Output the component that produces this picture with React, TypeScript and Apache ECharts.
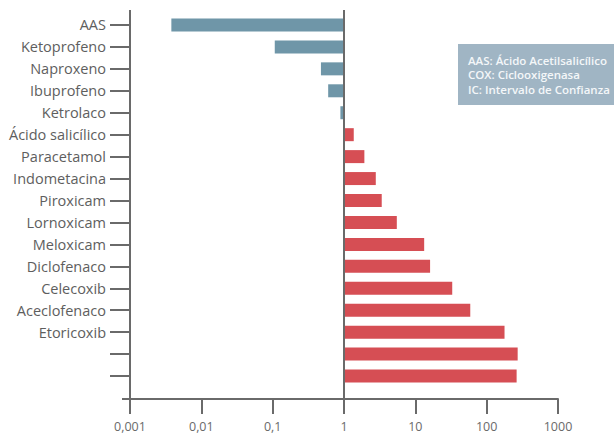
import React, { useEffect, useRef } from 'react';
import * as echarts from 'echarts';

const categories = [
  'AAS', 'Ketoprofeno', 'Naproxeno', 'Ibuprofeno', 'Ketrolaco',
  'Ácido salicílico', 'Paracetamol', 'Indometacina', 'Piroxicam', 'Lornoxicam',
  'Meloxicam', 'Diclofenaco', 'Celecoxib', 'Aceclofenaco', 'Etoricoxib', '', '',
];
const ratios = [
  0.0038, 0.107, 0.475, 0.6, 0.89,
  1.37, 1.93, 2.79, 3.38, 5.5,
  13.3, 16.1, 32.9, 58.9, 178, 272, 263,
];
const xTickLabels = ['0,001', '0,01', '0,1', '1', '10', '100', '1000'];
const legendLines = [
  'AAS: Ácido Acetilsalicílico',
  'COX: Ciclooxigenasa',
  'IC: Intervalo de Confianza',
];

const BLUE = '#6f96a8';
const RED = '#d64e54';
const AXIS = '#6a6a6a';
const FONT = 'Open Sans';

export default function App() {
  const ref = useRef<HTMLDivElement>(null);
  useEffect(() => {
    document.body.style.margin = '0';
    if (!ref.current) return;
    const chart = echarts.init(ref.current, undefined, { renderer: 'svg' });
    chart.setOption({
      animation: false,
      backgroundColor: '#ffffff',
      grid: { left: 130, right: 56, top: 14, bottom: 50, containLabel: false },
      xAxis: {
        type: 'log',
        logBase: 10,
        min: 0.001,
        max: 1000,
        offset: 12,
        splitLine: { show: false },
        axisLine: { show: true, lineStyle: { color: AXIS, width: 2 } },
        axisTick: { show: true, length: 15, lineStyle: { color: AXIS, width: 2 } },
        axisLabel: {
          margin: 21,
          color: '#6a6a6a',
          fontFamily: FONT,
          fontSize: 12.5,
          formatter: (v: number) => {
            const i = Math.round(Math.log10(v)) + 3;
            return xTickLabels[i] ?? '';
          },
        },
      },
      yAxis: {
        type: 'category',
        inverse: true,
        data: categories,
        axisLine: { show: false },
        axisTick: { show: true, length: 20, alignWithLabel: true, interval: 0, lineStyle: { color: AXIS, width: 2 } },
        axisLabel: { interval: 0, margin: 24, color: '#5e5e5e', fontFamily: FONT, fontSize: 14.5 },
        splitLine: { show: false },
      },
      series: [
        {
          type: 'bar',
          data: ratios,
          barWidth: 13,
          itemStyle: {
            color: (p: any) => (p.value < 1 ? BLUE : RED),
          },
        },
      ],
    });
    const xMin = chart.convertToPixel({ xAxisIndex: 0 }, 0.001) as number;
    const xOne = chart.convertToPixel({ xAxisIndex: 0 }, 1) as number;
    const axisY = 437 - 50 + 12;
    chart.setOption({
      graphic: [
        { type: 'line', shape: { x1: xMin, y1: 10, x2: xMin, y2: axisY }, style: { stroke: AXIS, lineWidth: 2 }, z: 10 },
        { type: 'line', shape: { x1: xOne, y1: 10, x2: xOne, y2: axisY }, style: { stroke: AXIS, lineWidth: 2 }, z: 10 },
        { type: 'line', shape: { x1: xMin - 8, y1: axisY, x2: xMin, y2: axisY }, style: { stroke: AXIS, lineWidth: 2 }, z: 10 },
        { type: 'rect', shape: { x: 458, y: 44, width: 156, height: 61 }, style: { fill: '#a0b5c4' }, z: 10 },
        ...legendLines.map((t, i) => ({
          type: 'text',
          x: 468,
          y: 60 + i * 14.5,
          style: {
            text: t,
            fill: '#f4f7f9',
            font: `600 11.5px "${FONT}"`,
            textVerticalAlign: 'middle',
            verticalAlign: 'middle',
          },
          z: 11,
        })),
      ],
    });
    return () => chart.dispose();
  }, []);
  return <div ref={ref} style={{ width: 614, height: 437 }} />;
}
